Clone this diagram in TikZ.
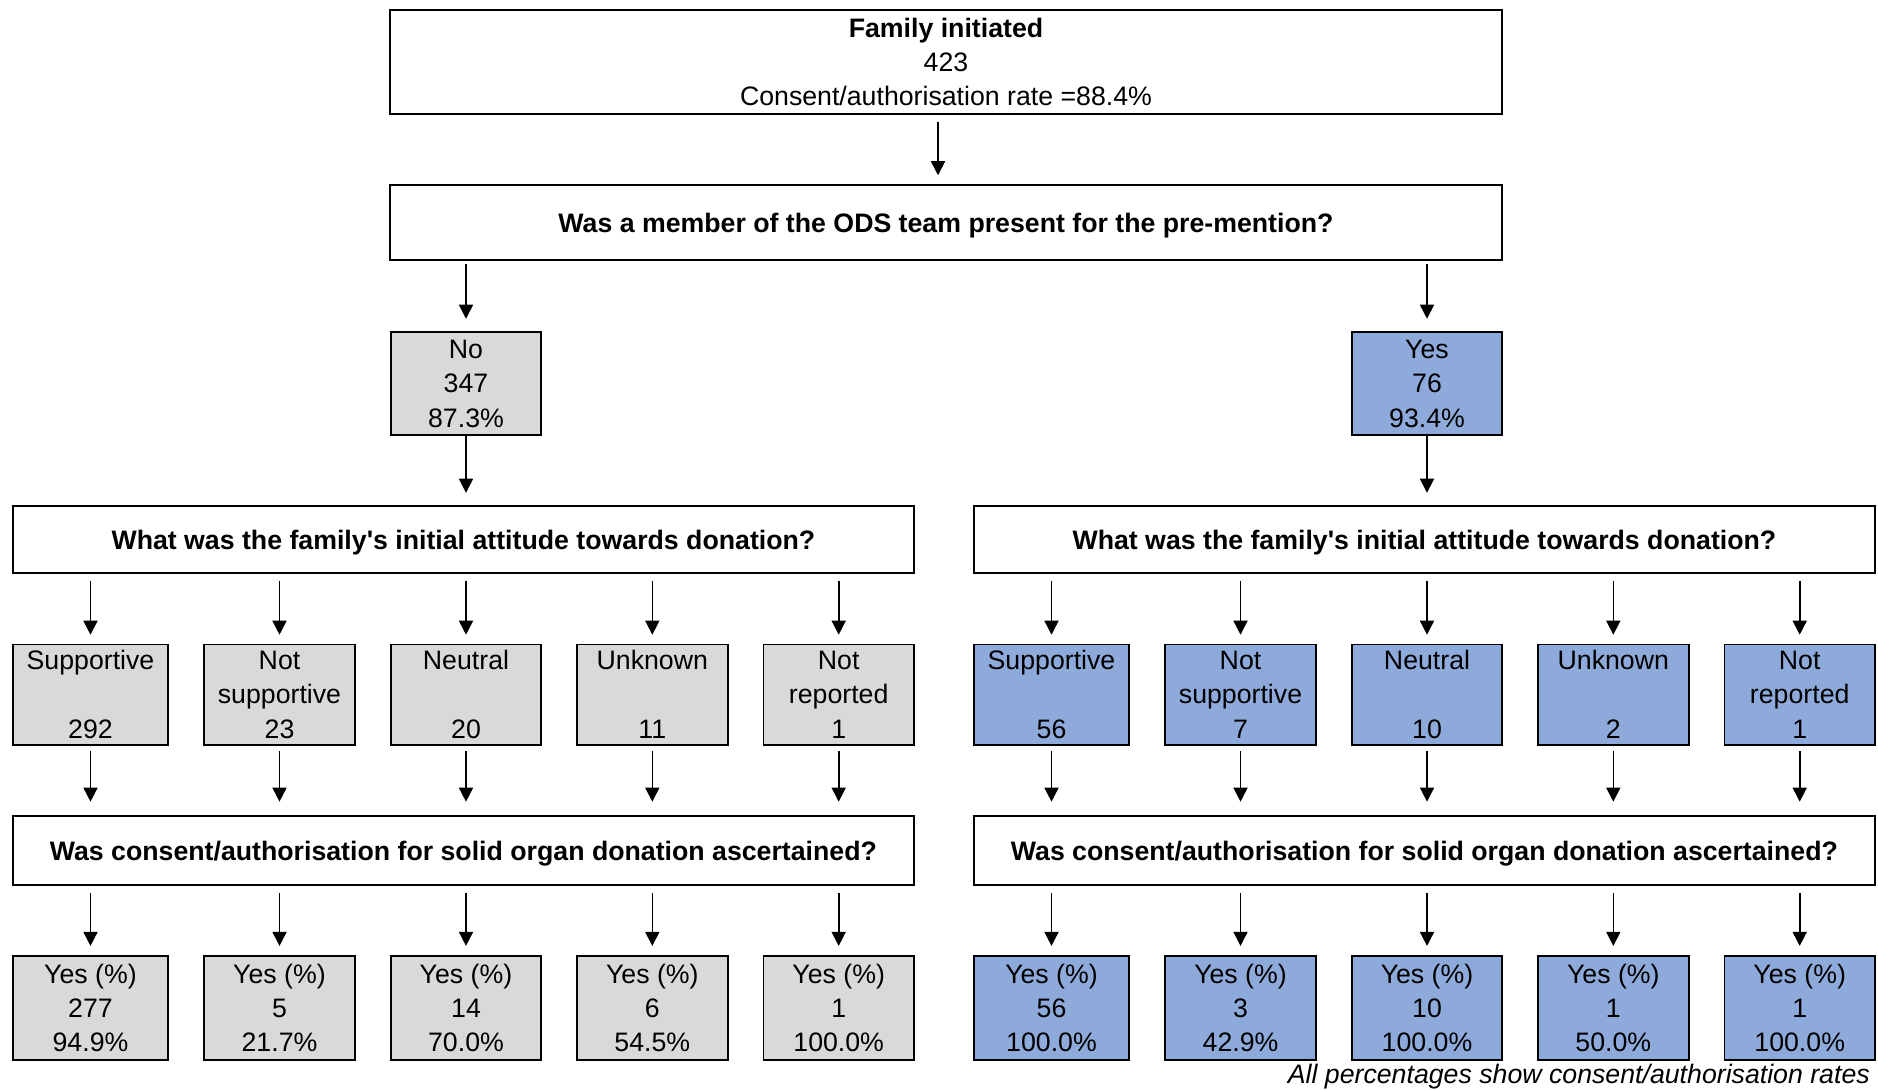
\documentclass[tikz,border=0pt]{standalone}
\usepackage{fontspec}
\setmainfont{Liberation Sans}
\usepackage{xcolor}
\usepackage{tikz}
\usetikzlibrary{arrows.meta,calc,positioning}
\definecolor{noGrey}{RGB}{217,217,217}
\definecolor{yesBlue}{RGB}{142,170,219}
\newcommand{\SideGap}{961}
\newcommand{\BoxFont}{\fontsize{15.2pt}{19.6pt}\selectfont}
\tikzset{
  box/.style={draw, line width=1.1pt, rectangle, inner sep=0pt, align=center, font=\BoxFont},
  question/.style={box, fill=white, execute at begin node={\rule{0pt}{14.3pt}}},  % one-line questions
  countBox/.style={box, execute at begin node={\rule{0pt}{16.8pt}}},              % three-line boxes
  noBox/.style={countBox, fill=noGrey},     % ODS not present
  yesBox/.style={countBox, fill=yesBlue},   % ODS present
  flowArrow/.style={-{Triangle[length=8pt,width=8pt]}, line width=0.9pt,
    shorten <=4pt, shorten >=5pt}
}
\newcommand{\DrawSide}[5]{% #1=side name, #2=x offset, #3=box style, #4=branch text, #5="i/x/line1/line2/n/yes/pct,..."
  \begin{scope}[xshift=#2*0.02cm]
    \node[#3, minimum width=3.01cm, minimum height=2.06cm] (#1br) at (466,383.5) {#4};
    \node[question, minimum width=18.03cm, minimum height=1.33cm] (#1att) at (463.4,539.3)
      {\bfseries What was the family\textquotesingle s initial attitude towards donation?};
    \node[question, minimum width=18.03cm, minimum height=1.38cm] (#1con) at (463.4,850.3)
      {\bfseries Was consent/authorisation for solid organ donation ascertained?};
    \draw[flowArrow, shorten <=2pt, shorten >=7pt] (ods.south -| #1br.north) -- (#1br.north);
    \draw[flowArrow, shorten <=0pt, shorten >=7pt] (#1br.south) -- (#1br.south |- #1att.north);
    \foreach \i/\xc/\la/\lb/\n/\y/\p in {#5}{%
      \pgfmathsetmacro{\w}{\i==1 ? 3.11 : 3.01}%
      \node[#3, minimum width=\w cm, minimum height=2.01cm] (#1c\i) at (\xc,694.7) {\la\\\lb\\\n};
      \node[#3, minimum width=\w cm, minimum height=2.09cm] (#1y\i) at (\xc,1007.9) {Yes (\%)\\\y\\\p\%};
      \draw[flowArrow] (#1att.south -| #1c\i.north) -- (#1c\i.north);
      \draw[flowArrow, shorten <=3pt, shorten >=7.5pt] (#1c\i.south) -- (#1c\i.south |- #1con.north);
      \draw[flowArrow] (#1con.south -| #1y\i.north) -- (#1y\i.north);
    }
  \end{scope}
}

\begin{document}
\begin{tikzpicture}[x=0.02cm, y=-0.02cm]
  \useasboundingbox (0,0) rectangle (1878,1089);
  % Root of the tree
  \node[countBox, fill=white, minimum width=22.24cm, minimum height=2.08cm] (init) at (946,62)
    {\textbf{Family initiated}\\423\\Consent/authorisation rate =88.4\%};
  \node[question, minimum width=22.24cm, minimum height=1.5cm] (ods) at (946,222.5)
    {\bfseries Was a member of the ODS team present for the pre-mention?};
  \draw[flowArrow] ([xshift=-0.16cm]init.south) -- ([xshift=-0.16cm]ods.north);

  % --- No ODS member present ---
  \DrawSide{L}{0}{noBox}{No\\347\\87.3\%}{%
    1/90.5/Supportive/{}/292/277/94.9,
    2/279.5/Not/supportive/23/5/21.7,
    3/466/Neutral/{}/20/14/70.0,
    4/652.3/Unknown/{}/11/6/54.5,
    5/838.7/Not/reported/1/1/100.0}

  % --- ODS member present ---
  \DrawSide{R}{\SideGap}{yesBox}{Yes\\76\\93.4\%}{%
    1/90.5/Supportive/{}/56/56/100.0,
    2/279.5/Not/supportive/7/3/42.9,
    3/466/Neutral/{}/10/10/100.0,
    4/652.3/Unknown/{}/2/1/50.0,
    5/838.7/Not/reported/1/1/100.0}

  \node[anchor=base east, font=\BoxFont\itshape] (note) at (1876,1083)
    {All percentages show consent/authorisation rates};
\end{tikzpicture}
\end{document}
